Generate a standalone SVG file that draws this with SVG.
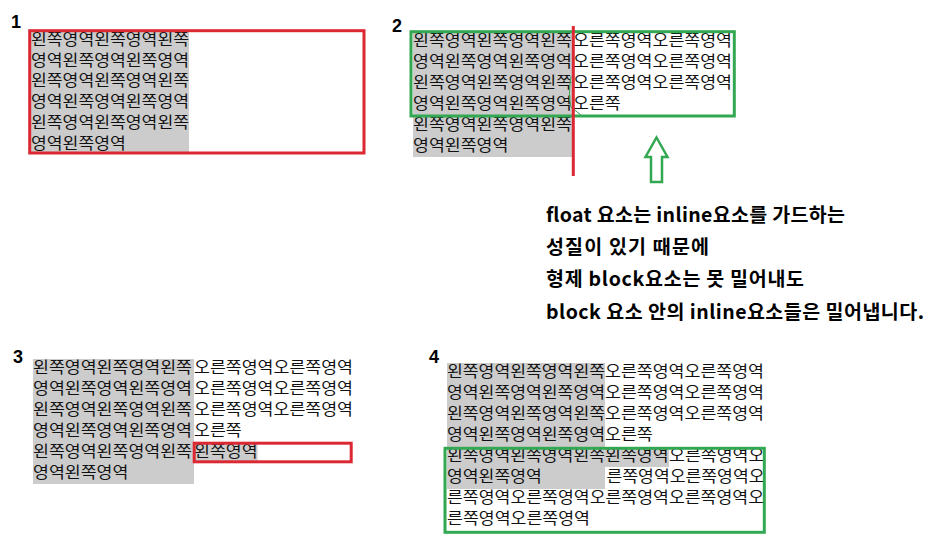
<svg xmlns="http://www.w3.org/2000/svg" width="932" height="543" viewBox="0 0 932 543">
<defs>
<style>
.t{font-family:"Noto Sans CJK KR","Noto Sans",sans-serif;font-size:15.6px;fill:#111}
.lbl{font-family:"Liberation Sans",Arial,sans-serif;font-size:18px;font-weight:bold;fill:#000}
.note{font-family:"Noto Sans CJK KR","Noto Sans",sans-serif;font-size:19.5px;font-weight:bold;fill:#000}
.gray{fill:#cccccc}
.red{fill:none;stroke:#dc2832;stroke-width:3}
.green{fill:none;stroke:#33a852;stroke-width:3}
</style>
</defs>
<rect width="932" height="543" fill="#ffffff"/>

<g id="panel1">
<text class="lbl" x="11" y="28">1</text>
<rect class="gray" x="31" y="32" width="158" height="120"/>
<text class="t" x="31" y="45" textLength="158" lengthAdjust="spacingAndGlyphs">왼쪽영역왼쪽영역왼쪽</text>
<text class="t" x="31" y="65.7" textLength="158" lengthAdjust="spacingAndGlyphs">영역왼쪽영역왼쪽영역</text>
<text class="t" x="31" y="86.4" textLength="158" lengthAdjust="spacingAndGlyphs">왼쪽영역왼쪽영역왼쪽</text>
<text class="t" x="31" y="107.1" textLength="158" lengthAdjust="spacingAndGlyphs">영역왼쪽영역왼쪽영역</text>
<text class="t" x="31" y="127.8" textLength="158" lengthAdjust="spacingAndGlyphs">왼쪽영역왼쪽영역왼쪽</text>
<text class="t" x="31" y="148.5" textLength="94.8" lengthAdjust="spacingAndGlyphs">영역왼쪽영역</text>
<rect class="red" x="29.7" y="30.7" width="334.3" height="122.3"/>
</g>

<g id="panel2">
<text class="lbl" x="392" y="32">2</text>
<rect class="gray" x="413" y="32" width="159" height="125"/>
<text class="t" x="413" y="45.5" textLength="159" lengthAdjust="spacingAndGlyphs">왼쪽영역왼쪽영역왼쪽</text>
<text class="t" x="413" y="66.5" textLength="159" lengthAdjust="spacingAndGlyphs">영역왼쪽영역왼쪽영역</text>
<text class="t" x="413" y="87.5" textLength="159" lengthAdjust="spacingAndGlyphs">왼쪽영역왼쪽영역왼쪽</text>
<text class="t" x="413" y="108.5" textLength="159" lengthAdjust="spacingAndGlyphs">영역왼쪽영역왼쪽영역</text>
<text class="t" x="413" y="129.5" textLength="159" lengthAdjust="spacingAndGlyphs">왼쪽영역왼쪽영역왼쪽</text>
<text class="t" x="413" y="150.5" textLength="95.4" lengthAdjust="spacingAndGlyphs">영역왼쪽영역</text>
<text class="t" x="573" y="45.5" textLength="159" lengthAdjust="spacingAndGlyphs">오른쪽영역오른쪽영역</text>
<text class="t" x="573" y="66.5" textLength="159" lengthAdjust="spacingAndGlyphs">오른쪽영역오른쪽영역</text>
<text class="t" x="573" y="87.5" textLength="159" lengthAdjust="spacingAndGlyphs">오른쪽영역오른쪽영역</text>
<text class="t" x="573" y="108.5" textLength="47.7" lengthAdjust="spacingAndGlyphs">오른쪽</text>
<rect class="green" x="411" y="31.7" width="323.3" height="84.3"/>
<path d="M571,76 Q568,95 571,107 L582,116" fill="none" stroke="#33a852" stroke-width="1"/>
</g>

<g id="panel3">
<text class="lbl" x="13" y="363">3</text>
<rect class="gray" x="33" y="359" width="161" height="125"/>
<text class="t" x="33" y="372.5" textLength="159" lengthAdjust="spacingAndGlyphs">왼쪽영역왼쪽영역왼쪽</text>
<text class="t" x="33" y="393.5" textLength="159" lengthAdjust="spacingAndGlyphs">영역왼쪽영역왼쪽영역</text>
<text class="t" x="33" y="414.5" textLength="159" lengthAdjust="spacingAndGlyphs">왼쪽영역왼쪽영역왼쪽</text>
<text class="t" x="33" y="435.5" textLength="159" lengthAdjust="spacingAndGlyphs">영역왼쪽영역왼쪽영역</text>
<text class="t" x="33" y="456.5" textLength="159" lengthAdjust="spacingAndGlyphs">왼쪽영역왼쪽영역왼쪽</text>
<text class="t" x="33" y="477.5" textLength="95.4" lengthAdjust="spacingAndGlyphs">영역왼쪽영역</text>
<text class="t" x="194" y="372.5" textLength="159" lengthAdjust="spacingAndGlyphs">오른쪽영역오른쪽영역</text>
<text class="t" x="194" y="393.5" textLength="159" lengthAdjust="spacingAndGlyphs">오른쪽영역오른쪽영역</text>
<text class="t" x="194" y="414.5" textLength="159" lengthAdjust="spacingAndGlyphs">오른쪽영역오른쪽영역</text>
<text class="t" x="194" y="435.5" textLength="47.7" lengthAdjust="spacingAndGlyphs">오른쪽</text>
<rect class="gray" x="194" y="444" width="63.6" height="18"/>
<text class="t" x="194" y="456.5" textLength="63.6" lengthAdjust="spacingAndGlyphs">왼쪽영역</text>
<rect class="red" x="194.2" y="443.2" width="157" height="18.6"/>
</g>

<g id="panel4">
<text class="lbl" x="429" y="363">4</text>
<rect class="gray" x="447" y="363" width="158" height="126"/>
<text class="t" x="447" y="376.5" textLength="158" lengthAdjust="spacingAndGlyphs">왼쪽영역왼쪽영역왼쪽</text>
<text class="t" x="447" y="397.5" textLength="158" lengthAdjust="spacingAndGlyphs">영역왼쪽영역왼쪽영역</text>
<text class="t" x="447" y="418.5" textLength="158" lengthAdjust="spacingAndGlyphs">왼쪽영역왼쪽영역왼쪽</text>
<text class="t" x="447" y="439.5" textLength="158" lengthAdjust="spacingAndGlyphs">영역왼쪽영역왼쪽영역</text>
<text class="t" x="447" y="460.5" textLength="158" lengthAdjust="spacingAndGlyphs">왼쪽영역왼쪽영역왼쪽</text>
<text class="t" x="447" y="481.5" textLength="94.8" lengthAdjust="spacingAndGlyphs">영역왼쪽영역</text>
<text class="t" x="605" y="376.5" textLength="159" lengthAdjust="spacingAndGlyphs">오른쪽영역오른쪽영역</text>
<text class="t" x="605" y="397.5" textLength="159" lengthAdjust="spacingAndGlyphs">오른쪽영역오른쪽영역</text>
<text class="t" x="605" y="418.5" textLength="159" lengthAdjust="spacingAndGlyphs">오른쪽영역오른쪽영역</text>
<text class="t" x="605" y="439.5" textLength="47.7" lengthAdjust="spacingAndGlyphs">오른쪽</text>
<rect class="gray" x="605" y="447.5" width="64" height="19.5"/>
<text class="t" x="605" y="460.5" textLength="63.6" lengthAdjust="spacingAndGlyphs">왼쪽영역</text>
<text class="t" x="669" y="460.5" textLength="95.4" lengthAdjust="spacingAndGlyphs">오른쪽영역오</text>
<text class="t" x="606.5" y="481.5" textLength="158" lengthAdjust="spacingAndGlyphs">른쪽영역오른쪽영역오</text>
<text class="t" x="447" y="502.5" textLength="317" lengthAdjust="spacingAndGlyphs">른쪽영역오른쪽영역오른쪽영역오른쪽영역오</text>
<text class="t" x="447" y="523.5" textLength="143" lengthAdjust="spacingAndGlyphs">른쪽영역오른쪽영역</text>
<rect class="green" x="445" y="448.3" width="319.3" height="84"/>
</g>

<g id="note">
<text class="note" x="546" y="222" textLength="299" lengthAdjust="spacing">float 요소는 inline요소를 가드하는</text>
<text class="note" x="546" y="254" textLength="163" lengthAdjust="spacing">성질이 있기 때문에</text>
<text class="note" x="546" y="286" textLength="258" lengthAdjust="spacing">형제 block요소는 못 밀어내도</text>
<text class="note" x="546" y="319" textLength="378" lengthAdjust="spacing">block 요소 안의 inline요소들은 밀어냅니다.</text>
</g>

<g id="connectors">
<line x1="573.3" y1="26" x2="573.3" y2="176" stroke="#dc2832" stroke-width="3"/>
<path d="M656.5,137.5 L667.5,157 L662,157 L662,182 L651,182 L651,157 L645.5,157 Z" fill="none" stroke="#33a852" stroke-width="2.5" stroke-linejoin="miter"/>
</g>
</svg>
